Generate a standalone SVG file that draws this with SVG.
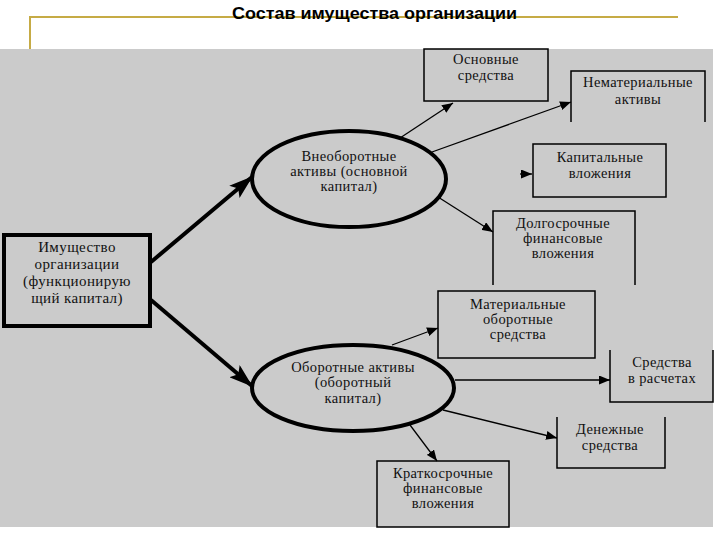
<svg xmlns="http://www.w3.org/2000/svg" width="720" height="540" viewBox="0 0 720 540">
<defs>
<style>
.bx{fill:none;stroke:#000;stroke-width:1.5}
.t{font-family:"Liberation Serif","Times New Roman",serif;font-size:14.5px;letter-spacing:0.4px;fill:#111;text-anchor:middle}
.tb{font-family:"Liberation Serif","Times New Roman",serif;font-size:15px;letter-spacing:0.4px;fill:#111;text-anchor:middle}
.ell{fill:none;stroke:#000;stroke-width:4}
.thin{fill:none;stroke:#000;stroke-width:1.3;marker-end:url(#ah)}
.thick{fill:none;stroke:#000;stroke-width:4;marker-end:url(#ahb)}
</style>
<marker id="ah" markerUnits="userSpaceOnUse" markerWidth="11" markerHeight="9" refX="11" refY="4.5" orient="auto"><path d="M0,0 L11,4.5 L0,9 z" fill="#000"/></marker>
<marker id="ahb" markerUnits="userSpaceOnUse" markerWidth="24" markerHeight="16" refX="23" refY="8" orient="auto"><path d="M0,0 L24,8 L0,16 L5,8 z" fill="#000"/></marker>
</defs>
<rect x="0" y="0" width="720" height="540" fill="#fff"/>
<rect x="0" y="49" width="713" height="478" fill="#cbcbcb"/>
<path d="M30,49 V17 H678" fill="none" stroke="#c6ab45" stroke-width="2"/>
<text x="374.5" y="19" font-family="'Liberation Sans',Arial,sans-serif" font-size="16" font-weight="bold" text-anchor="middle" textLength="285" lengthAdjust="spacingAndGlyphs" fill="#000">Состав имущества организации</text>

<g id="connectors">
<path class="thick" d="M151,262 L252,177"/>
<path class="thick" d="M151,300 L252,386"/>
<path class="thin" d="M400,138 L453,103"/>
<path class="thin" d="M432,152 L571,102"/>
<path class="thin" d="M520,174 L532,174"/>
<path class="thin" d="M438,197 L493,232"/>
<path class="thin" d="M392,345 L438,328"/>
<path class="thin" d="M455,380 L610,380"/>
<path class="thin" d="M443,410 L557,438"/>
<path class="thin" d="M410,425 L437,461"/>
</g>

<g id="root">
<rect x="4" y="235" width="146" height="91" fill="none" stroke="#000" stroke-width="4"/>
<text class="tb" x="77" y="252">Имущество</text>
<text class="tb" x="77" y="269">организации</text>
<text class="tb" x="77" y="286">(функционирую</text>
<text class="tb" x="77" y="303">щий капитал)</text>
</g>

<g id="noncurrent">
<ellipse class="ell" cx="349" cy="179" rx="97" ry="48"/>
<text class="t" x="349" y="161">Внеоборотные</text>
<text class="t" x="349" y="176">активы (основной</text>
<text class="t" x="349" y="191">капитал)</text>
</g>

<g id="current">
<ellipse class="ell" cx="353" cy="388" rx="101" ry="43"/>
<text class="t" x="353" y="372">Оборотные активы</text>
<text class="t" x="353" y="387">(оборотный</text>
<text class="t" x="353" y="403">капитал)</text>
</g>

<g id="fixed">
<rect class="bx" x="424" y="49" width="124" height="52"/>
<text class="t" x="486" y="64">Основные</text>
<text class="t" x="486" y="80">средства</text>
</g>

<g id="intangible">
<path class="bx" d="M571,122 V71 H705 V122"/>
<text class="t" x="638" y="87">Нематериальные</text>
<text class="t" x="638" y="104">активы</text>
</g>

<g id="capinv">
<rect class="bx" x="533" y="144" width="133" height="53"/>
<text class="t" x="600" y="162">Капитальные</text>
<text class="t" x="600" y="178">вложения</text>
</g>

<g id="longfin">
<path class="bx" d="M493,285 V211 H635 V285"/>
<text class="t" x="563" y="228">Долгосрочные</text>
<text class="t" x="563" y="243">финансовые</text>
<text class="t" x="563" y="258">вложения</text>
</g>

<g id="material">
<rect class="bx" x="438" y="291" width="157" height="67"/>
<text class="t" x="518" y="309">Материальные</text>
<text class="t" x="518" y="324">оборотные</text>
<text class="t" x="518" y="339">средства</text>
</g>

<g id="receivables">
<path class="bx" d="M610,350 V402 H713 V350"/>
<text class="t" x="662" y="367">Средства</text>
<text class="t" x="662" y="383">в расчетах</text>
</g>

<g id="cash">
<path class="bx" d="M557,417 V468 H665 V417"/>
<text class="t" x="610" y="434">Денежные</text>
<text class="t" x="610" y="450">средства</text>
</g>

<g id="shortfin">
<rect class="bx" x="377" y="461" width="132" height="66"/>
<text class="t" x="443" y="478">Краткосрочные</text>
<text class="t" x="443" y="493">финансовые</text>
<text class="t" x="443" y="508">вложения</text>
</g>
</svg>
